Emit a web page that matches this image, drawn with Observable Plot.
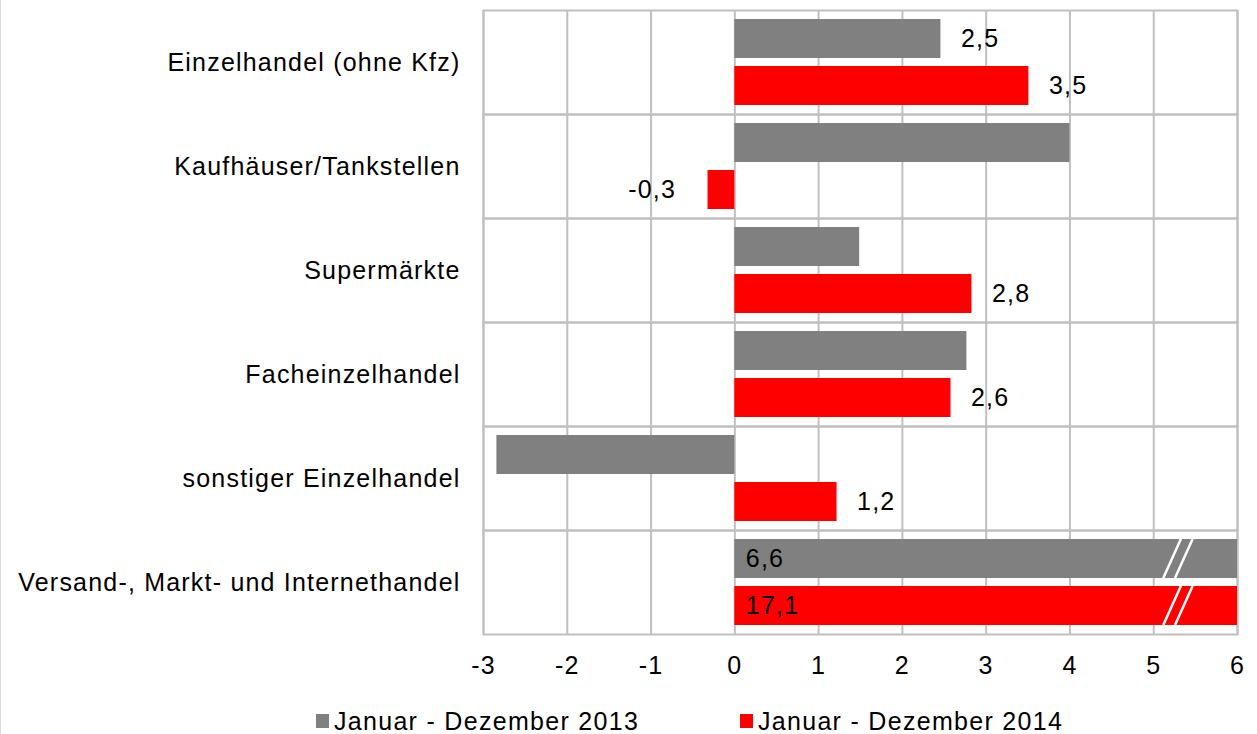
<!DOCTYPE html>
<html>
<head>
<meta charset="utf-8">
<script src="https://cdn.jsdelivr.net/npm/d3@7"></script>
<script src="https://cdn.jsdelivr.net/npm/@observablehq/plot@0.6"></script>
<style>
  html, body { margin: 0; padding: 0; background: #fff; }
  body { width: 1257px; height: 734px; overflow: hidden; position: relative; font-family: "Liberation Sans", Arial, sans-serif; }
  #edge { position: absolute; left: 0; top: 0; width: 1px; height: 734px; background: #d9d9d9; }
  #legend { position: absolute; left: 0; top: 690px; width: 1257px; height: 44px; font-size: 25px; letter-spacing: 1.3px; color: #000; }
  .item { position: absolute; top: 16px; display: flex; align-items: center; height: 30px; }
  .sw { width: 13px; height: 14px; margin-right: 5px; }
</style>
</head>
<body>
<div id="chart"></div>
<div id="legend"></div>
<div id="edge"></div>
<script>
const categories = [
  "Einzelhandel (ohne Kfz)",
  "Kaufhäuser/Tankstellen",
  "Supermärkte",
  "Facheinzelhandel",
  "sonstiger Einzelhandel",
  "Versand-, Markt- und Internethandel"
];
const series = ["Januar - Dezember 2013", "Januar - Dezember 2014"];
const values2013 = [2.46, 4.0, 1.49, 2.77, -2.84, 6.6];
const values2014 = [3.51, -0.32, 2.83, 2.58, 1.22, 17.1];
const labeled2013 = [true, false, false, false, false, true];
const labeled2014 = [true, true, true, true, true, true];
const xTicks = [-3, -2, -1, 0, 1, 2, 3, 4, 5, 6];
const colors = ["#808080", "#ff0000"];

const xMin = xTicks[0], xMax = xTicks[xTicks.length - 1];
const fmt = v => d3.format(".1f")(v).replace(".", ",").replace("\u2212", "-");

const rows = [];
categories.forEach((c, i) => {
  rows.push({category: c, series: series[0], value: values2013[i], labeled: labeled2013[i]});
  rows.push({category: c, series: series[1], value: values2014[i], labeled: labeled2014[i]});
});
rows.forEach(r => r.label = fmt(r.value));

const labeledRows = rows.filter(r => r.labeled);
const outsidePos = labeledRows.filter(r => r.value >= 0 && r.value <= xMax);
const outsideNeg = labeledRows.filter(r => r.value < 0);
const overflow = labeledRows.filter(r => r.value > xMax);

const grid = "#c0c0c0";

const chart = Plot.plot({
  width: 1257,
  height: 690,
  marginLeft: 483,
  marginRight: 20,
  marginTop: 10,
  marginBottom: 56,
  style: {fontFamily: "'Liberation Sans', Arial, sans-serif", fontSize: "25px", letterSpacing: "1.2px", color: "#000", background: "#fff", overflow: "visible"},
  x: {domain: [xMin, xMax], clamp: true, ticks: xTicks, tickSize: 0, tickPadding: 22, tickFormat: d => String(d), label: null},
  fy: {domain: categories, padding: 0, label: null, tickSize: 0, tickPadding: 23},
  y: {domain: series, paddingInner: 0.17, paddingOuter: 0.19, axis: null},
  color: {domain: series, range: colors},
  marks: [
    Plot.ruleX(xTicks, {stroke: grid, strokeWidth: 2}),
    Plot.frame({stroke: grid, strokeWidth: 2}),
    Plot.barX(rows, {
      fy: "category", y: "series", x1: 0, x2: "value", fill: "series",
      render(index, scales, values, dimensions, context, next) {
        const g = next(index, scales, values, dimensions, context);
        const Y = values.y || values.Y;
        const bw = scales.y.bandwidth();
        const sx = scales.x;
        if (!Y) return g;
        for (const i of index) {
          if (rows[i].value > xMax) {
            const y0 = Y[i];
            const offsets = [[xMax - 0.88, xMax - 0.67], [xMax - 0.74, xMax - 0.53]];
            for (const [a, b] of offsets) {
              d3.select(g).append("line")
                .attr("x1", sx(a)).attr("y1", y0 + bw)
                .attr("x2", sx(b)).attr("y2", y0)
                .attr("stroke", "#fff").attr("stroke-width", 2.5);
            }
          }
        }
        return g;
      }
    }),
    Plot.text(outsidePos, {fy: "category", y: "series", x: "value", text: "label", textAnchor: "start", dx: 20, fill: "#000"}),
    Plot.text(outsideNeg, {fy: "category", y: "series", x: "value", text: "label", textAnchor: "end", dx: -32, fill: "#000"}),
    Plot.text(overflow, {fy: "category", y: "series", x: () => 0, text: "label", textAnchor: "start", dx: 11, fill: "#000"})
  ]
});
document.getElementById("chart").appendChild(chart);

const legend = document.getElementById("legend");
const legendLefts = [316, 740];
series.forEach((s, i) => {
  const item = document.createElement("div");
  item.className = "item";
  item.style.left = legendLefts[i] + "px";
  const sw = document.createElement("span");
  sw.className = "sw";
  sw.style.background = colors[i];
  const t = document.createElement("span");
  t.textContent = s;
  item.appendChild(sw);
  item.appendChild(t);
  legend.appendChild(item);
});
</script>
</body>
</html>
